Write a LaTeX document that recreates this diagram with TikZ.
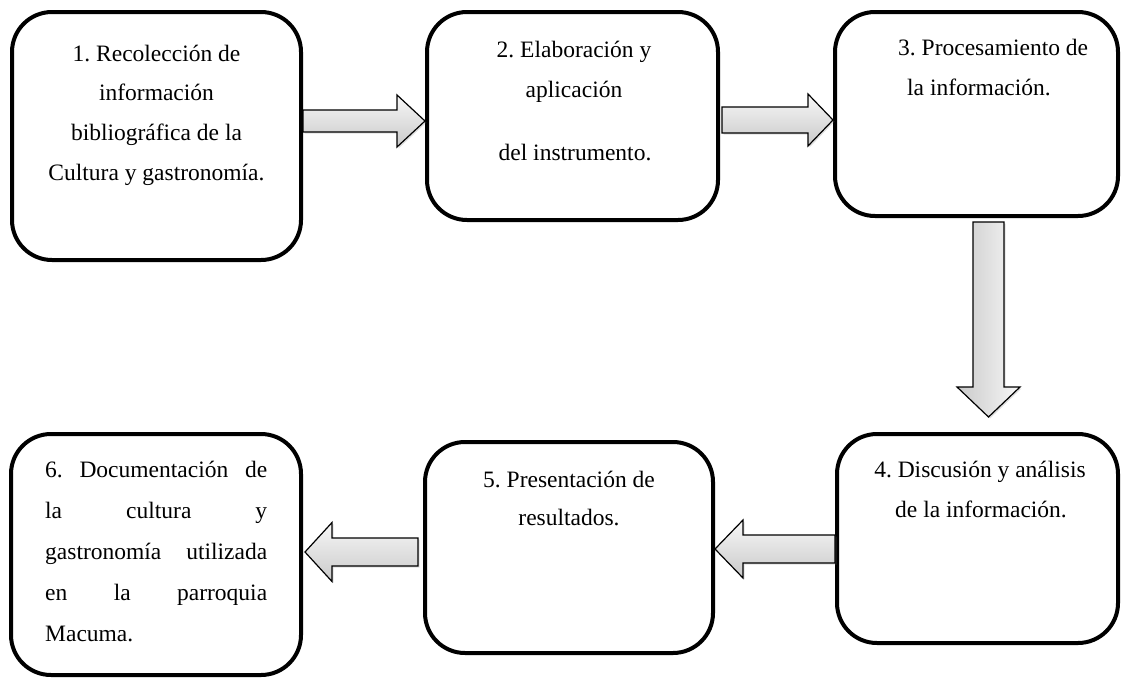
\documentclass[tikz,border=0pt]{standalone}
\usepackage{fontspec}
\setmainfont{Liberation Serif}
\usetikzlibrary{calc,shadows}
\frenchspacing
\newcommand\rarrow[5]{\path[blk] ($(#1)+(0,-#3)$) -- ($(#2)+(-#5,-#3)$) -- ($(#2)+(-#5,-#4)$) -- (#2) -- ($(#2)+(-#5,#4)$) -- ($(#2)+(-#5,#3)$) -- ($(#1)+(0,#3)$) -- cycle;}
\newcommand\larrow[5]{\path[blk] ($(#1)+(0,-#3)$) -- ($(#2)+(#5,-#3)$) -- ($(#2)+(#5,-#4)$) -- (#2) -- ($(#2)+(#5,#4)$) -- ($(#2)+(#5,#3)$) -- ($(#1)+(0,#3)$) -- cycle;}
\newcommand\darrow[5]{\path[blkv] ($(#1)+(-#3,0)$) -- ($(#2)+(-#3,-#5)$) -- ($(#2)+(-#4,-#5)$) -- (#2) -- ($(#2)+(#4,-#5)$) -- ($(#2)+(#3,-#5)$) -- ($(#1)+(#3,0)$) -- cycle;}
\begin{document}
\begin{tikzpicture}[x=1pt,y=-1pt,
  box/.style={draw=black, line width=4pt, rounded corners=40pt, fill=white, inner sep=0pt},
  txt/.style={font=\fontsize{23.5}{41}\selectfont\frenchspacing, inner sep=0pt, anchor=base},
  txtl/.style={txt, anchor=base west},
  blk/.style={draw=black, line width=1.2pt, line join=miter, top color=gray!6, bottom color=gray!42,
    drop shadow={opacity=0.25, shadow xshift=1.5pt, shadow yshift=-1.5pt}},
  blkv/.style={draw=black, line width=1.2pt, line join=miter, left color=gray!42, right color=gray!6,
    drop shadow={opacity=0.25, shadow xshift=1.5pt, shadow yshift=-1.5pt}}]
\useasboundingbox (0,0) rectangle (1121,680);
% boxes
\node[box, minimum width=289pt, minimum height=248pt] (b1) at (156.5,136) {};
\node[box, minimum width=291pt, minimum height=208pt] (b2) at (572.5,116) {};
\node[box, minimum width=283pt, minimum height=204pt] (b3) at (976.5,114) {};
\node[box, minimum width=281pt, minimum height=209pt] (b4) at (977.5,538.5) {};
\node[box, minimum width=288pt, minimum height=211pt] (b5) at (569,547.5) {};
\node[box, minimum width=290pt, minimum height=241pt] (b6) at (156,554.5) {};
% texts
\node[txt] (t1a) at (156.5,61) {1. Recolección de};
\node[txt] (t1b) at (156.5,100) {información};
\node[txt] (t1c) at (156.5,140) {bibliográfica de la};
\node[txt] (t1d) at (156.5,180) {Cultura y gastronomía.};
\node[txt] (t2a) at (574,57) {2. Elaboración y};
\node[txt] (t2b) at (574,97) {aplicación};
\node[txt] (t2c) at (575,160) {del instrumento.};
\node[txtl] (t3a) at (898,55) {3. Procesamiento de};
\node[txtl] (t3b) at (907,95) {la información.};
\node[txt] (t4a) at (980,477) {4. Discusión y análisis};
\node[txt] (t4b) at (981,517) {de la información.};
\node[txt] (t5a) at (569,487) {5. Presentación de};
\node[txt] (t5b) at (569,525) {resultados.};
\node[txtl] (t6a) at (45,477) {\makebox[222pt][s]{6. Documentación de}};
\node[txtl] (t6b) at (45,518) {\makebox[222pt][s]{la cultura y}};
\node[txtl] (t6c) at (45,559) {\makebox[222pt][s]{gastronomía utilizada}};
\node[txtl] (t6d) at (45,600) {\makebox[222pt][s]{en la parroquia}};
\node[txtl] (t6e) at (45,641) {Macuma.};
% arrows
\coordinate (a1s) at (b1.east |- 0,121);
\coordinate (a1e) at (b2.west |- 0,121);
\rarrow{a1s}{a1e}{11}{26}{28}
\coordinate (a2s) at ($(b2.east |- 0,120)+(2,0)$);
\coordinate (a2e) at (b3.west |- 0,120);
\rarrow{a2s}{a2e}{13}{26}{25}
\coordinate (a3s) at ($(b3.south -| 988.5,0)+(0,4)$);
\coordinate (a3e) at ($(b4.north -| 988.5,0)+(0,-15)$);
\darrow{a3s}{a3e}{15.5}{31.5}{30}
\coordinate (a4s) at (b4.west |- 0,549);
\coordinate (a4e) at (b5.east |- 0,549);
\larrow{a4s}{a4e}{14}{29}{28}
\coordinate (a5s) at ($(b5.west |- 0,552)+(-5,0)$);
\coordinate (a5e) at ($(b6.east |- 0,552)+(2,0)$);
\larrow{a5s}{a5e}{14}{29.5}{27}
\end{tikzpicture}
\end{document}
